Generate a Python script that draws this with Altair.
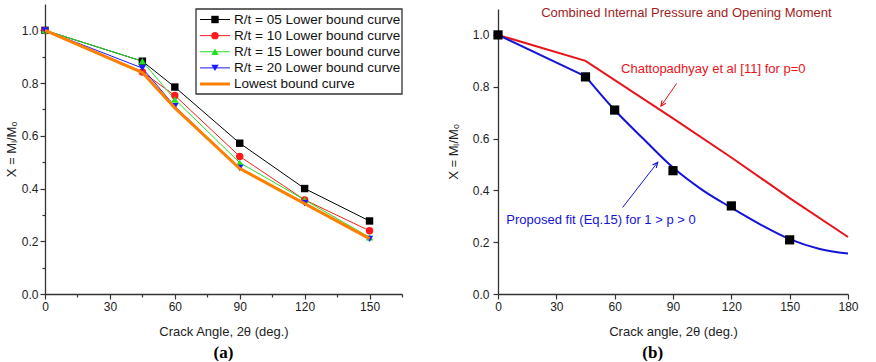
import altair as alt
import pandas as pd

FONT = "Liberation Sans"

# ---------------- panel (a) data ----------------
angles_a = [0, 45, 60, 90, 120, 150]
series_a = ["R/t = 05 Lower bound curve", "R/t = 10 Lower bound curve",
            "R/t = 15 Lower bound curve", "R/t = 20 Lower bound curve",
            "Lowest bound curve"]
rt05 = [1.0, 0.883, 0.785, 0.572, 0.400, 0.277]
rt10 = [1.0, 0.842, 0.753, 0.522, 0.357, 0.240]
rt15 = [1.0, 0.883, 0.738, 0.498, 0.357, 0.215]
rt20 = [1.0, 0.857, 0.712, 0.478, 0.344, 0.209]
lowest = [1.0, 0.840, 0.706, 0.476, 0.343, 0.210]

colors_a = ["#000000", "#ff1a1a", "#22e022", "#1a1aff", "#ff8000"]
shapes_a = ["square", "circle", "triangle-up", "triangle-down"]

# ---------------- panel (b) data ----------------
fe_angles = [0, 45, 60, 90, 120, 150]
fe_values = [1.0, 0.838, 0.710, 0.476, 0.340, 0.209]
fit_angles = [0, 45, 60, 75, 90, 105, 120, 135, 150, 165, 180]
fit_values = [1.0, 0.840, 0.710, 0.597, 0.488, 0.402, 0.333, 0.268, 0.212, 0.175, 0.156]
chatt_angles = [0, 45, 90, 120, 150, 180]
chatt_values = [1.0, 0.90, 0.678, 0.527, 0.370, 0.22]

title_b = "Combined Internal Pressure and Opening Moment"
label_chatt = "Chattopadhyay et al [11] for p=0"
label_fit = "Proposed fit (Eq.15) for 1 > p > 0"
arrow_names = ["chatt", "fit"]
arrow_x = [91.9, 64.1]
arrow_y = [0.813, 0.334]
arrow_x2 = [83.8, 82.1]
arrow_y2 = [0.725, 0.508]
arrow_angle = [214.7, 37.9]

RED = "#e8141b"
BLUE = "#1414d8"

# ---------------- tables ----------------
rows = []
for name, vals in zip(series_a, [rt05, rt10, rt15, rt20, lowest]):
    for a, v in zip(angles_a, vals):
        rows.append({"series": name, "angle": a, "value": v})
df_a = pd.DataFrame(rows)
leg_df = pd.DataFrame({"series": series_a, "idx": list(range(len(series_a)))})

df_fe = pd.DataFrame({"angle": fe_angles, "value": fe_values})
df_fit = pd.DataFrame({"angle": fit_angles, "value": fit_values})
df_chatt = pd.DataFrame({"angle": chatt_angles, "value": chatt_values})
df_arrow = pd.DataFrame({"name": arrow_names, "x": arrow_x, "y": arrow_y,
                         "x2": arrow_x2, "y2": arrow_y2, "ang": arrow_angle})

# ---------------- axes ----------------
even_test = "round(datum.value * 10) % 2 === 0"


def y_axis(title_padding, label_padding):
    return alt.Axis(
        values=[i / 10 for i in range(11)],
        labelExpr=f"{even_test} ? format(datum.value, '.1f') : ''",
        tickSize={"condition": {"test": even_test, "value": 5}, "value": 3},
        title="X = M\u2097/M\u2092",
        titlePadding=title_padding,
        labelPadding=label_padding,
        grid=False,
    )


def x_axis(title, maxv):
    return alt.Axis(
        values=list(range(0, maxv + 1, 15)),
        labelExpr="datum.value % 30 === 0 ? format(datum.value, 'd') : ''",
        tickSize={"condition": {"test": "datum.value % 30 === 0", "value": 5}, "value": 3},
        title=title,
        titlePadding=13,
        labelPadding=2,
        labelFlush=False,
        grid=False,
    )


# ---------------- panel (a) ----------------
xa = alt.X("angle:Q", scale=alt.Scale(domain=[0, 165], nice=False),
           axis=x_axis("Crack Angle, 2\u03b8 (deg.)", 165))
ya = alt.Y("value:Q", scale=alt.Scale(domain=[0, 1.1], nice=False), axis=y_axis(3, 2))
color_a = alt.Color("series:N", scale=alt.Scale(domain=series_a, range=colors_a), legend=None)
shape_a = alt.Shape("series:N", scale=alt.Scale(domain=series_a[:4], range=shapes_a), legend=None)
four = alt.FieldOneOfPredicate(field="series", oneOf=series_a[:4])

base_a = alt.Chart(df_a)
lines_a = base_a.mark_line(strokeWidth=1).encode(x=xa, y=ya, color=color_a).transform_filter(four)
pts_a = base_a.mark_point(filled=True, size=55, opacity=1).encode(
    x=xa, y=ya, color=color_a, shape=shape_a).transform_filter(four)
low_a = base_a.mark_line(strokeWidth=3).encode(x=xa, y=ya, color=color_a).transform_filter(
    alt.datum.series == series_a[4])
main_a = alt.layer(lines_a, pts_a, low_a)

leg_y = alt.Y("idx:O", scale=alt.Scale(type="point", range=[15.5, 80], padding=0), axis=None)
frame = alt.Chart(alt.Data(values=[{}])).mark_rect(
    fill="white", stroke="#333333", strokeWidth=1.3).encode(
    x=alt.value(151), x2=alt.value(357), y=alt.value(5), y2=alt.value(90))
leg_base = alt.Chart(leg_df)
leg_rules = leg_base.mark_rule(strokeWidth=1).encode(
    x=alt.value(155), x2=alt.value(185), y=leg_y, color=color_a).transform_filter(four)
leg_low = leg_base.mark_rule(strokeWidth=3).encode(
    x=alt.value(155), x2=alt.value(185), y=leg_y, color=color_a).transform_filter(
    alt.datum.series == series_a[4])
leg_pts = leg_base.mark_point(filled=True, size=55, opacity=1).encode(
    x=alt.value(170), y=leg_y, color=color_a, shape=shape_a).transform_filter(four)
leg_text = leg_base.mark_text(align="left", baseline="middle", font=FONT, fontSize=13.5,
                              color="#111111").encode(x=alt.value(189), y=leg_y, text="series:N")
legend_a = alt.layer(frame, leg_rules, leg_low, leg_pts, leg_text)

panel_a = alt.layer(main_a, legend_a).resolve_scale(y="independent").properties(
    width=357, height=290,
    title=alt.TitleParams("(a)", orient="bottom", font="Liberation Serif", fontSize=17,
                          fontWeight="bold", anchor="middle", frame="group", offset=7,
                          color="#000000"))

# ---------------- panel (b) ----------------
xb = alt.X("angle:Q", scale=alt.Scale(domain=[0, 180], nice=False),
           axis=x_axis("Crack angle, 2\u03b8 (deg.)", 180))
yb = alt.Y("value:Q", scale=alt.Scale(domain=[0, 1.1], nice=False, range=[290, 5]),
           axis=y_axis(12, 4))

chatt = alt.Chart(df_chatt).mark_line(color=RED, strokeWidth=2).encode(x=xb, y=yb)
fit_straight = alt.Chart(df_fit).mark_line(color=BLUE, strokeWidth=2).encode(
    x=xb, y=yb).transform_filter(alt.datum.angle <= 45)
fit_curve = alt.Chart(df_fit).mark_line(color=BLUE, strokeWidth=2, interpolate="monotone").encode(
    x=xb, y=yb).transform_filter(alt.datum.angle >= 45)
fe = alt.Chart(df_fe).mark_square(size=85, color="black", opacity=1).encode(x=xb, y=yb)

arrow_layers = []
for nm, col in zip(arrow_names, [RED, BLUE]):
    sel = alt.datum.name == nm
    arrow_layers.append(alt.Chart(df_arrow).mark_rule(strokeWidth=1, color=col).encode(
        x=alt.X("x:Q", scale=alt.Scale(domain=[0, 180], nice=False)),
        y=alt.Y("y:Q", scale=alt.Scale(domain=[0, 1.1], nice=False, range=[290, 5])),
        x2="x2:Q", y2="y2:Q").transform_filter(sel))
    arrow_layers.append(alt.Chart(df_arrow).mark_point(
        shape="M-0.45,1L0,0L0.45,1", filled=False, strokeWidth=1.2, size=110, opacity=1,
        color=col).encode(
        x=alt.X("x2:Q"), y=alt.Y("y2:Q"),
        angle=alt.Angle("ang:Q", scale=None)).transform_filter(sel))


def label_layer(x, y, text, color, align):
    return alt.Chart(alt.Data(values=[{"x": x, "y": y, "t": text}])).mark_text(
        font=FONT, fontSize=13, color=color, baseline="middle", align=align).encode(
        x="x:Q", y="y:Q", text="t:N")


t_title = label_layer(96.9, 1.084, title_b, "#a21c1c", "center")
t_chatt = label_layer(63.3, 0.868, label_chatt, RED, "left")
t_fit = label_layer(4.3, 0.2854, label_fit, BLUE, "left")

panel_b = alt.layer(chatt, fit_straight, fit_curve, fe, *arrow_layers,
                    t_title, t_chatt, t_fit).properties(
    width=350, height=290,
    title=alt.TitleParams("(b)", orient="bottom", font="Liberation Serif", fontSize=17,
                          fontWeight="bold", anchor="middle", frame="bounds", offset=7,
                          color="#000000"))

chart = alt.hconcat(panel_a, panel_b, spacing=44).resolve_scale(
    color="independent", shape="independent"
).properties(
    padding={"left": 5, "top": 4, "right": 0, "bottom": 0}
).configure_view(stroke=None).configure_axis(
    domainColor="#333333", domainWidth=1.3, tickColor="#333333", tickWidth=1.2,
    labelFont=FONT, labelFontSize=12, labelColor="#222222",
    titleFont=FONT, titleFontSize=13, titleFontWeight="normal", titleColor="#222222",
).configure_title(font="Liberation Serif")

chart.save("out.html", embed_options={"renderer": "svg", "actions": False})
